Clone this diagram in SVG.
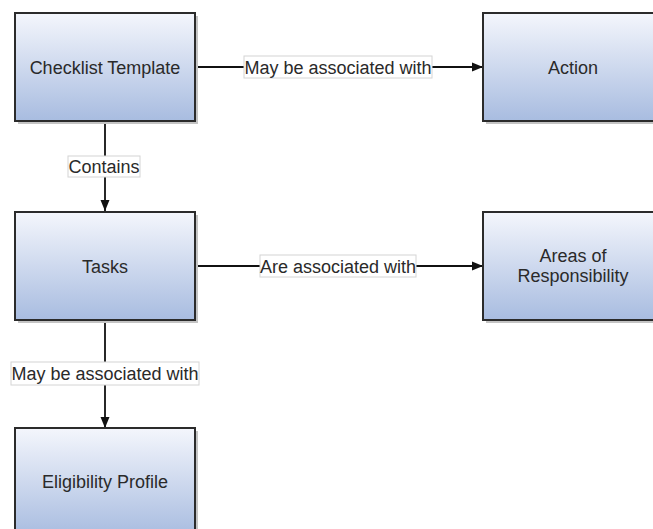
<svg xmlns="http://www.w3.org/2000/svg" width="653" height="529" viewBox="0 0 653 529">
<defs>
<linearGradient id="g" x1="0" y1="0" x2="0" y2="1">
<stop offset="0" stop-color="#f4f6fc"/>
<stop offset="1" stop-color="#a8bce0"/>
</linearGradient>
<marker id="ah" viewBox="0 0 11 10" refX="11" refY="5" markerWidth="11" markerHeight="10" markerUnits="userSpaceOnUse" orient="auto">
<path d="M0,0.5 L11,5 L0,9.5 Z" fill="#111"/>
</marker>
</defs>
<style>
.shadow{fill:#c4c4c4}
.box{fill:url(#g);stroke:#2b2b2b;stroke-width:2}
.t{font-family:"Liberation Sans",Arial,sans-serif;font-size:18px;fill:#2a2a2a;text-anchor:middle}
.edge{stroke:#111;stroke-width:1.8;fill:none;marker-end:url(#ah)}
.lb{fill:#fff;stroke:#d4d4d4;stroke-width:1}
</style>
<rect width="653" height="529" fill="#fff"/>
<g id="connectors">
<line class="edge" x1="195" y1="67" x2="483" y2="67"/>
<line class="edge" x1="195" y1="266" x2="483" y2="266"/>
<line class="edge" x1="105" y1="121" x2="105" y2="211"/>
<line class="edge" x1="105" y1="320" x2="105" y2="428"/>
<rect class="lb" x="244" y="56" width="188" height="22"/>
<text class="t" x="338" y="73.5">May be associated with</text>
<rect class="lb" x="260" y="255" width="156" height="22"/>
<text class="t" x="338" y="272.5">Are associated with</text>
<rect class="lb" x="68" y="156" width="72" height="21"/>
<text class="t" x="104" y="172.5">Contains</text>
<rect class="lb" x="11" y="362" width="188" height="23"/>
<text class="t" x="105" y="379.5">May be associated with</text>
</g>
<g id="checklist-template">
<rect class="shadow" x="18" y="16" width="180" height="108"/>
<rect class="box" x="15" y="13" width="180" height="108"/>
<text class="t" x="105" y="73.5">Checklist Template</text>
</g>
<g id="action">
<rect class="shadow" x="486" y="16" width="180" height="108"/>
<rect class="box" x="483" y="13" width="180" height="108"/>
<text class="t" x="573" y="73.5">Action</text>
</g>
<g id="tasks">
<rect class="shadow" x="18" y="215" width="180" height="108"/>
<rect class="box" x="15" y="212" width="180" height="108"/>
<text class="t" x="105" y="272.5">Tasks</text>
</g>
<g id="areas-of-responsibility">
<rect class="shadow" x="486" y="215" width="180" height="108"/>
<rect class="box" x="483" y="212" width="180" height="108"/>
<text class="t" x="573" y="262">Areas of</text>
<text class="t" x="573" y="282">Responsibility</text>
</g>
<g id="eligibility-profile">
<rect class="shadow" x="18" y="431" width="180" height="108"/>
<rect class="box" x="15" y="428" width="180" height="108"/>
<text class="t" x="105" y="488">Eligibility Profile</text>
</g>
</svg>
